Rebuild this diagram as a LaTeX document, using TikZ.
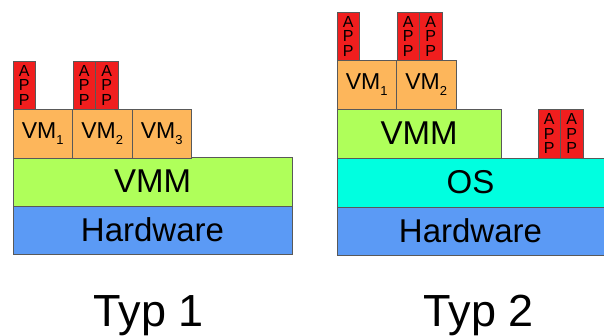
\documentclass[tikz,border=0pt]{standalone}
\usepackage{fontspec}
\setmainfont{Liberation Sans}
\usetikzlibrary{positioning}

\definecolor{appred}{HTML}{F01E1E}
\definecolor{vmorange}{HTML}{FDB65B}
\definecolor{vmmgreen}{HTML}{AFFF5A}
\definecolor{oscyan}{HTML}{00FFE0}
\definecolor{hwblue}{HTML}{5B9AF5}

\tikzset{
  layer/.style={draw=black!65, line width=0.8pt, inner sep=0pt, outer sep=0pt,
    anchor=north west, minimum height=49pt, font=\fontsize{33}{33}\selectfont},
  vmbox/.style={layer, fill=vmorange, minimum width=59.5pt, font=\fontsize{23}{23}\selectfont},
  appbox/.style={layer, fill=appred, minimum width=22.5pt, minimum height=48pt,
    align=center, font=\fontsize{16}{14.5}\selectfont},
  typlabel/.style={font=\fontsize{45}{45}\selectfont, anchor=base}
}
\newcommand{\vmname}[1]{VM\raisebox{-0.45ex}{\fontsize{13}{13}\selectfont #1}}

\begin{document}
\begin{tikzpicture}[x=1pt, y=-1pt, node distance=0pt]
\useasboundingbox (0,0) rectangle (604,335);

% Typ 1
\node[layer, fill=hwblue, minimum width=279pt, minimum height=48pt] (hw1) at (13,206) {Hardware};
\node[layer, fill=vmmgreen, minimum width=279pt] (vmm1) at (13,157) {VMM};
\node[vmbox] (vma1) at (13,109) {\vmname{1}};
\node[vmbox, anchor=west, right=of vma1] (vma2) {\vmname{2}};
\node[vmbox, anchor=west, right=of vma2] (vma3) {\vmname{3}};
\node[appbox] (appa1) at (13,61) {A\\P\\P};
\node[appbox] (appa2) at (73,61) {A\\P\\P};
\node[appbox, anchor=west, right=of appa2] (appa3) {A\\P\\P};
\node[typlabel] (typ1) at (149,326) {Typ 1};

% Typ 2
\node[layer, fill=hwblue, minimum width=267pt, minimum height=48pt] (hw2) at (337,207) {Hardware};
\node[layer, fill=oscyan, minimum width=267pt] (os) at (337,158) {OS};
\node[layer, fill=vmmgreen, minimum width=164pt] (vmm2) at (337,109) {VMM};
\node[vmbox] (vmb1) at (337,60) {\vmname{1}};
\node[vmbox, anchor=west, right=of vmb1] (vmb2) {\vmname{2}};
\node[appbox] (appb1) at (337,12) {A\\P\\P};
\node[appbox] (appb2) at (397,12) {A\\P\\P};
\node[appbox, anchor=west, right=of appb2] (appb3) {A\\P\\P};
\node[appbox, minimum height=49pt] (appc1) at (538,109) {A\\P\\P};
\node[appbox, minimum height=49pt, anchor=west, right=of appc1] (appc2) {A\\P\\P};
\node[typlabel] (typ2) at (479,326) {Typ 2};
\end{tikzpicture}
\end{document}
